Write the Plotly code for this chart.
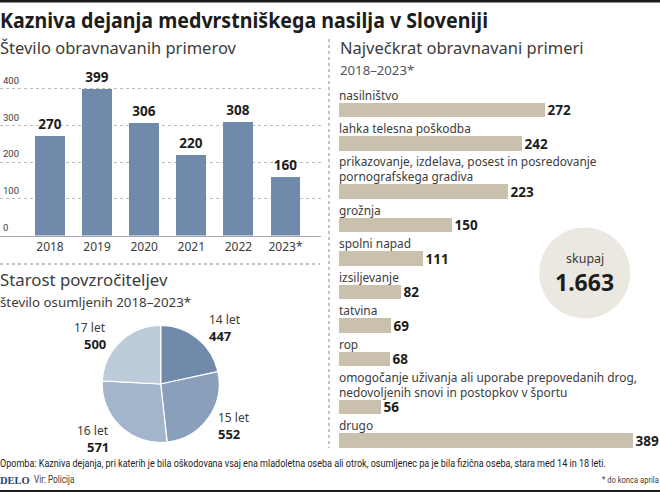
import json
import plotly.graph_objects as go

W, H = 660, 492
years = ["2018", "2019", "2020", "2021", "2022", "2023*"]
cases = [270, 399, 306, 220, 308, 160]
ticks = [0, 100, 200, 300, 400]

crime_labels = ["nasilništvo", "lahka telesna poškodba",
                "prikazovanje, izdelava, posest in posredovanje<br>pornografskega gradiva",
                "grožnja", "spolni napad", "izsiljevanje", "tatvina", "rop",
                "omogočanje uživanja ali uporabe prepovedanih drog,<br>nedovoljenih snovi in postopkov v športu",
                "drugo"]
crime_values = [272, 242, 223, 150, 111, 82, 69, 68, 56, 389]

ages = ["14 let", "15 let", "16 let", "17 let"]
suspects = [447, 552, 571, 500]
age_colors = ["#6f8aab", "#8aa0ba", "#a3b5cb", "#bccada"]

BODY = "Noto Sans"
NARROW = "Roboto"
INK = "#1d1d1b"
SOFT = "#3c3c3b"

def px(x): return x / W
def py(y): return 1 - y / H

rows, pos = [], 110
for i, lab in enumerate(crime_labels):
    if i:
        pos += 33.5 + 14.5 * lab.count("<br>")
    rows.append(pos)

fig = go.Figure()
fig.add_trace(go.Bar(x=years, y=cases, xaxis="x", yaxis="y", width=0.635,
                     marker=dict(color="#6f8aab", line_width=0),
                     text=cases, textposition="outside", cliponaxis=False, constraintext="none",
                     textfont=dict(family=BODY, size=13.5, color=INK, weight="bold")))
fig.add_trace(go.Bar(y=rows, x=crime_values, orientation="h", xaxis="x2", yaxis="y2", width=14.5,
                     marker=dict(color="#c9c1ae", line_width=0),
                     text=crime_values, textposition="outside", cliponaxis=False, constraintext="none",
                     textfont=dict(family=BODY, size=13.5, color=INK, weight="bold")))
fig.add_trace(go.Pie(labels=ages, values=suspects, sort=False, direction="clockwise", rotation=0,
                     marker=dict(colors=age_colors, line=dict(color="white", width=1.2)),
                     textinfo="none", showlegend=False, hoverinfo="label+value",
                     domain=dict(x=[px(160.7 - 58.5), px(160.7 + 58.5)],
                                 y=[py(384 + 58.5), py(384 - 58.5)])))

ann = []
def T(x, y, s, size, color=SOFT, anchor="left", v="middle", family=BODY, bold=False):
    ann.append(dict(xref="paper", yref="paper", x=px(x), y=py(y), text=s, showarrow=False,
                    xanchor=anchor, yanchor=v, align=anchor,
                    font=dict(family=family, size=size, color=color,
                              weight="bold" if bold else "normal"),
                    borderpad=0, borderwidth=0))

TITLE = "Kazniva dejanja medvrstniškega nasilja v Sloveniji"
NOTE = ("Opomba: Kazniva dejanja, pri katerih je bila oškodovana vsaj ena mladoletna oseba ali otrok, "
        "osumljenec pa je bila fizična oseba, stara med 14 in 18 leti.")
SOURCE = "Vir: Policija"
ASTER = "* do konca aprila"

T(0, 20, TITLE, 21, INK, bold=True)
T(0, 47, "Število obravnavanih primerov", 16.5)
T(340, 47, "Največkrat obravnavani primeri", 16.5)
T(340, 70, "2018–2023*", 13.2, "#55565a")
T(0, 279, "Starost povzročiteljev", 16.8)
T(0, 302, "število osumljenih 2018–2023*", 13.3)

for lab, r in zip(crime_labels, rows):
    T(338.5, r - 7.5, lab, 11.9, v="bottom")

T(584.7, 258.5, "skupaj", 12.5, anchor="center")
T(584.7, 282, "1.663", 23, INK, anchor="center", bold=True)

age_pos = [(209, 319, "left"), (218, 417, "left"), (109, 430, "right"), (106, 327, "right")]
for a, v, (x, y, an) in zip(ages, suspects, age_pos):
    T(x, y, a, 12, anchor=an)
    T(x, y + 16.5, str(v), 13, INK, anchor=an, bold=True)

T(0, 464, NOTE, 9.05, INK, family=NARROW)
T(0, 480, "DELO", 10.5, "#27466f", family="Liberation Serif", bold=True)
T(34, 480, SOURCE, 8.2, SOFT, family=NARROW)
T(659, 480, ASTER, 7.6, SOFT, anchor="right", family=NARROW)

dot = dict(color="#8a8a8a", width=1, dash="dot")
shapes = [
    dict(type="rect", xref="paper", yref="paper", x0=0, x1=1, y0=py(2.5), y1=1,
         fillcolor="#1d1d1b", line_width=0),
    dict(type="rect", xref="paper", yref="paper", x0=0, x1=1, y0=0, y1=py(490),
         fillcolor="#1d1d1b", line_width=0),
    dict(type="line", xref="paper", yref="paper", x0=0, x1=px(320), y0=py(264), y1=py(264), line=dot),
    dict(type="line", xref="paper", yref="paper", x0=px(329), x1=px(329), y0=py(39), y1=py(448), line=dot),
    dict(type="circle", xref="paper", yref="paper", layer="below",
         x0=px(584.7 - 45.5), x1=px(584.7 + 45.5), y0=py(273 + 45.5), y1=py(273 - 45.5),
         fillcolor="#ebe8e1", line_width=0),
]

fig.update_layout(
    width=W, height=H, margin=dict(l=0, r=0, t=0, b=0), autosize=False,
    paper_bgcolor="white", plot_bgcolor="rgba(0,0,0,0)", showlegend=False,
    annotations=ann, shapes=shapes, bargap=0,
    xaxis=dict(domain=[0, px(321)], range=[-50 / 47.1, (321 - 50) / 47.1], type="category",
               categoryorder="array", categoryarray=years, showgrid=False, ticks="",
               showline=True, linecolor="#a9a9a9", linewidth=1,
               tickfont=dict(family=BODY, size=12, color=SOFT), anchor="y"),
    yaxis=dict(domain=[py(235.5), py(66)], range=[0, 169.5 / 147 * 400], tickvals=ticks,
               showgrid=True, gridcolor="#bcbcbc", griddash="dot", gridwidth=1, zeroline=False,
               ticklabelposition="inside", ticklabelshift=-8, ticks="",
               tickfont=dict(family=NARROW, size=9.5, color=SOFT), anchor="x"),
    xaxis2=dict(domain=[px(338.5), 1], range=[0, (660 - 338.5) / 0.7557], visible=False, anchor="y2"),
    yaxis2=dict(domain=[0, 1], range=[H, 0], visible=False, anchor="x2"),
)

# The reference sets the small print in a condensed face: a narrower real font size,
# stretched vertically about its baseline, gives the same proportions.
stretch = [[NOTE, 1.22], [SOURCE, 1.22], [ASTER, 1.25]]
squeeze = [[TITLE, 0, 488]]
post = """
document.body.style.margin='0';document.body.style.overflow='hidden';
const stretch=%s, squeeze=%s;
document.querySelectorAll('.annotation-text').forEach(t=>{
  for(const [k,s] of stretch){
    if(t.textContent===k){
      const y=parseFloat(t.getAttribute('y'));
      t.setAttribute('transform','translate(0,'+y+') scale(1,'+s+') translate(0,'+(-y)+')');
    }
  }
  for(const [k,x0,w] of squeeze){
    if(t.textContent===k){
      t.setAttribute('textLength',w);
      t.setAttribute('lengthAdjust','spacingAndGlyphs');
      const r=t.getBoundingClientRect();
      t.setAttribute('x',parseFloat(t.getAttribute('x'))+x0-r.left);
    }
  }
});
""" % (json.dumps(stretch, ensure_ascii=False), json.dumps(squeeze, ensure_ascii=False))
fig.write_html("out.html", post_script=post, config=dict(displayModeBar=False))
